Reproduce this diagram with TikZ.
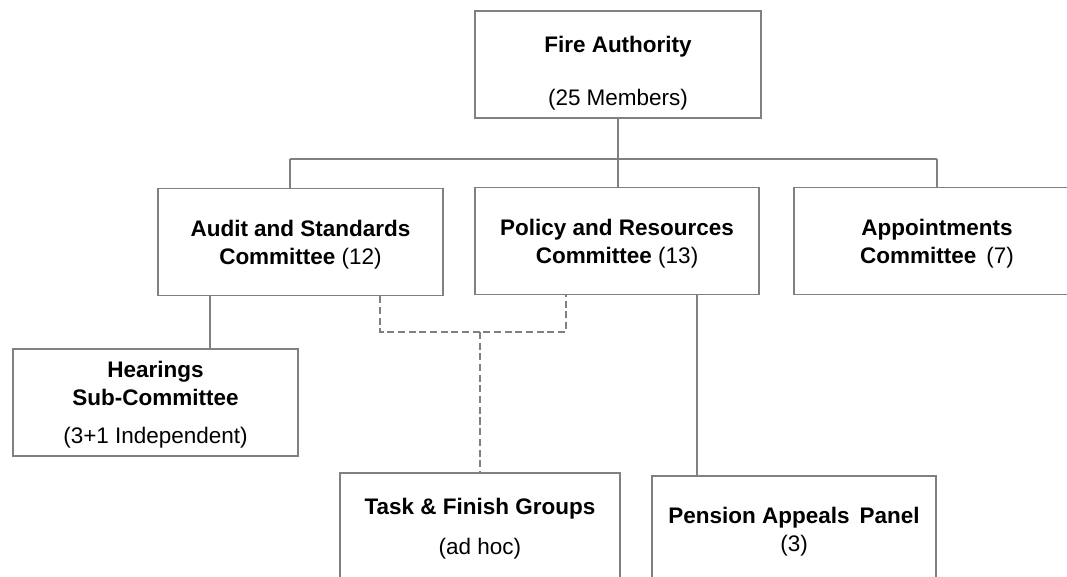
\documentclass[tikz,border=0pt]{standalone}
\usepackage{fontspec}
\setmainfont{Liberation Sans}
\definecolor{linegray}{RGB}{128,128,128}
\begin{document}
\begin{tikzpicture}
    [box/.style={rectangle,draw=linegray,line width=1.2pt,align=center,
      inner sep=0pt,minimum height=2.675cm,text depth=-3pt,font=\fontsize{16}{20}\selectfont},
     link/.style={draw=linegray,line width=1.2pt},
     adhoc/.style={link,dash pattern=on 5pt off 2.6pt}]
    \useasboundingbox (0,0) rectangle (26.675,14.4);
    \node (fire) at (15.45, 12.7875) [box,minimum width=7.15cm,text height=58pt] {\textbf{Fire Authority}\\[17.5pt](25 Members)};
    \node (audit) at (7.5125, 8.35) [box,minimum width=7.125cm] {\textbf{Audit and Standards}\\\textbf{Committee} (12)};
    \node (policy) at (15.425, 8.375) [box,minimum width=7.1cm] {\textbf{Policy and Resources}\\\textbf{Committee} (13)};
    \node (appt) at (23.425, 8.375) [box,minimum width=7.15cm] {\textbf{Appointments}\\\textbf{Committee}\, (7)};
    \node (hear) at (3.8875, 4.3375) [box,minimum width=7.125cm] {\textbf{Hearings}\\\textbf{Sub-Committee}\\[7pt](3+1 Independent)};
    \node (task) at (12.0, 1.2375) [box,minimum width=7.0cm] {\textbf{Task \& Finish Groups}\\[8.5pt](ad hoc)};
    \node (pension) at (19.85, 1.1625) [box,minimum width=7.1cm] {\textbf{Pension Appeals\, Panel}\\(3)};
    \coordinate (bus) at (0, 10.425);
    \coordinate (dash) at (0, 6.1);
    \draw [link] (fire.south) to (fire.south |- bus);
    \draw [link] ([xshift=-0.26cm]audit.north |- bus) to (appt.north |- bus);
    \draw [link] ([xshift=-0.26cm]audit.north |- bus) to ([xshift=-0.26cm]audit.north);
    \draw [link] (fire.south |- bus) to (fire.south |- policy.north);
    \draw [link] (appt.north |- bus) to (appt.north);
    \draw [link] ([xshift=-2.26cm]audit.south) to ([xshift=-2.26cm]audit.south |- hear.north);
    \draw [link] ([xshift=2.0cm]policy.south) to ([xshift=2.0cm]policy.south |- pension.north);
    \draw [adhoc] ([xshift=1.99cm]audit.south) |- ([xshift=-1.275cm]policy.south |- dash) to ([xshift=-1.275cm]policy.south);
    \draw [adhoc] (task.north |- dash) to (task.north);
  \end{tikzpicture}
\end{document}
